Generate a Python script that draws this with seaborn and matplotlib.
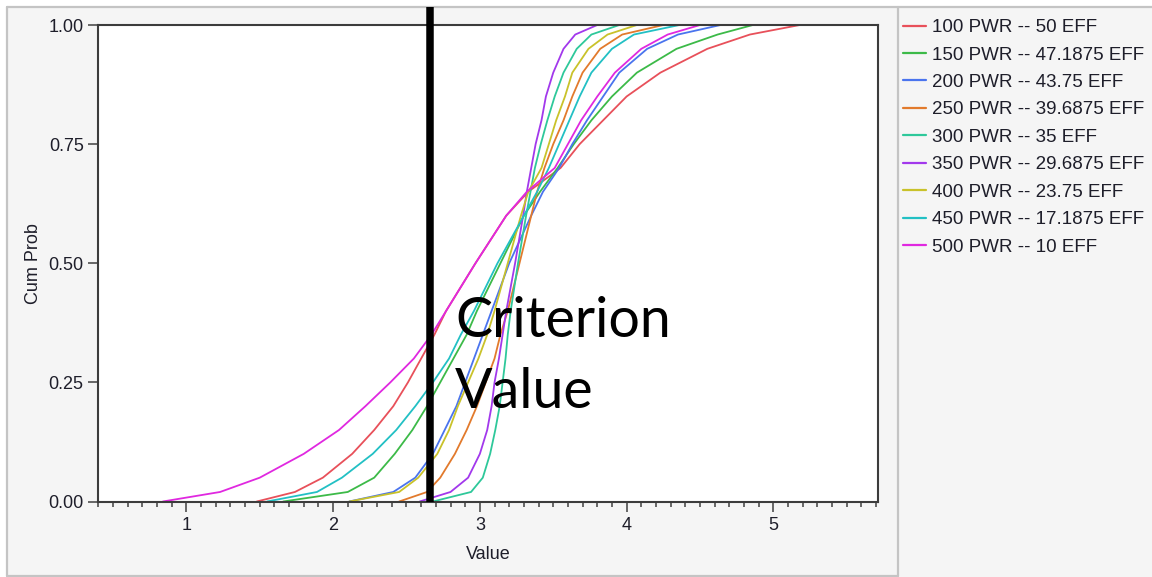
import numpy as np
import pandas as pd
import matplotlib
matplotlib.use("Agg")
import matplotlib.pyplot as plt
import seaborn as sns
from matplotlib.lines import Line2D
from matplotlib.ticker import MultipleLocator

# Cumulative probability levels shared by every series
CUM_PROB = [0.0, 0.02, 0.05, 0.10, 0.15, 0.20, 0.25, 0.30, 0.35, 0.40, 0.50,
            0.60, 0.65, 0.70, 0.75, 0.80, 0.85, 0.90, 0.95, 0.98, 1.0]

# Value reached by each design at the probability levels above
SERIES_LABELS = [
    "100 PWR -- 50 EFF",
    "150 PWR -- 47.1875 EFF",
    "200 PWR -- 43.75 EFF",
    "250 PWR -- 39.6875 EFF",
    "300 PWR -- 35 EFF",
    "350 PWR -- 29.6875 EFF",
    "400 PWR -- 23.75 EFF",
    "450 PWR -- 17.1875 EFF",
    "500 PWR -- 10 EFF",
]

pwr100 = [1.48, 1.74, 1.93, 2.13, 2.28, 2.41, 2.51, 2.60, 2.69, 2.77, 2.97,
          3.18, 3.33, 3.55, 3.68, 3.84, 4.00, 4.23, 4.55, 4.84, 5.18]
pwr150 = [1.66, 2.10, 2.28, 2.42, 2.54, 2.64, 2.73, 2.82, 2.91, 2.98, 3.14,
          3.30, 3.41, 3.53, 3.64, 3.76, 3.90, 4.07, 4.34, 4.62, 4.86]
pwr200 = [2.11, 2.41, 2.56, 2.68, 2.76, 2.84, 2.90, 2.96, 3.02, 3.08, 3.20,
          3.35, 3.43, 3.54, 3.63, 3.73, 3.84, 3.95, 4.14, 4.35, 4.64]
pwr250 = [2.45, 2.64, 2.73, 2.83, 2.91, 2.98, 3.04, 3.10, 3.14, 3.19, 3.27,
          3.35, 3.39, 3.44, 3.50, 3.57, 3.63, 3.70, 3.82, 3.97, 4.25]
pwr300 = [2.68, 2.94, 3.02, 3.07, 3.105, 3.135, 3.155, 3.175, 3.19, 3.21, 3.26,
          3.315, 3.345, 3.375, 3.415, 3.46, 3.51, 3.57, 3.66, 3.76, 3.95]
pwr350 = [2.59, 2.80, 2.92, 3.00, 3.05, 3.08, 3.10, 3.13, 3.155, 3.18, 3.24,
          3.295, 3.32, 3.35, 3.38, 3.42, 3.45, 3.50, 3.57, 3.65, 3.80]
pwr400 = [2.11, 2.45, 2.58, 2.71, 2.79, 2.85, 2.92, 2.99, 3.05, 3.10, 3.19,
          3.28, 3.33, 3.42, 3.47, 3.52, 3.58, 3.63, 3.74, 3.87, 4.07]
pwr450 = [1.55, 1.89, 2.06, 2.27, 2.43, 2.56, 2.68, 2.79, 2.87, 2.96, 3.12,
          3.30, 3.39, 3.47, 3.54, 3.61, 3.68, 3.76, 3.90, 4.05, 4.36]
pwr500 = [0.84, 1.23, 1.50, 1.80, 2.04, 2.22, 2.39, 2.55, 2.67, 2.77, 2.97,
          3.18, 3.32, 3.51, 3.60, 3.69, 3.80, 3.92, 4.10, 4.28, 4.50]

SERIES_VALUES = [pwr100, pwr150, pwr200, pwr250, pwr300,
                 pwr350, pwr400, pwr450, pwr500]

CRITERION = 2.66

colors = ["#e8505a", "#3cba48", "#4a74ee", "#e27a2c", "#2ec89a",
          "#a238ec", "#c9c22a", "#22c0c4", "#e028e0"]

rows = []
for label, vals in zip(SERIES_LABELS, SERIES_VALUES):
    for v, p in zip(vals, CUM_PROB):
        rows.append({"Series": label, "Value": v, "Cum Prob": p})
df = pd.DataFrame(rows)

sns.set_style("white")
plt.rcParams["font.family"] = ["Liberation Sans", "DejaVu Sans"]

fig = plt.figure(figsize=(11.52, 5.77), dpi=100)
fig.patch.set_facecolor("white")

W, H = 1152.0, 577.0
# light grey report panel with thin frame lines
panel = plt.Rectangle((7 / W, 0), 1 - 7 / W, 1 - 7 / H, transform=fig.transFigure,
                      facecolor="#f5f5f5", edgecolor="none", zorder=-10)
fig.add_artist(panel)
frame_kw = dict(transform=fig.transFigure, color="#c4c4c4", lw=1.6, zorder=-5)
fig.add_artist(Line2D([7 / W, 1], [1 - 7 / H, 1 - 7 / H], **frame_kw))
fig.add_artist(Line2D([7 / W, 7 / W], [1 / H, 1 - 7 / H], **frame_kw))
fig.add_artist(Line2D([898 / W, 898 / W], [1 / H, 1 - 7 / H], **frame_kw))
fig.add_artist(Line2D([7 / W, 898 / W], [1.5 / H, 1.5 / H], **frame_kw))

ax = fig.add_axes([98.3 / W, (H - 501.5) / H, (878.3 - 98.3) / W, (501.5 - 25) / H])
ax.set_facecolor("white")

sns.lineplot(data=df, x="Value", y="Cum Prob", hue="Series",
             hue_order=SERIES_LABELS, palette=colors, estimator=None,
             sort=False, linewidth=1.3, legend=False, ax=ax)
for ln in ax.lines:
    ln.set_clip_on(False)

ax.set_xlim(0.4, 5.715)
ax.set_ylim(0, 1)

# criterion marker running up through the top of the panel
ax.plot([CRITERION, CRITERION], [0, 1.038], color="black", lw=5.4,
        solid_capstyle="butt", clip_on=False, zorder=5)
ax.text(2.83, 0.345, "Criterion", fontsize=40, family=["Lato", "DejaVu Sans"],
        va="baseline", ha="left", color="black", zorder=6)
ax.text(2.83, 0.196, "Value", fontsize=40, family=["Lato", "DejaVu Sans"],
        va="baseline", ha="left", color="black", zorder=6)

ax.xaxis.set_major_locator(MultipleLocator(1))
ax.xaxis.set_minor_locator(MultipleLocator(0.1))
ax.set_yticks([0, 0.25, 0.5, 0.75, 1.0])
ax.set_yticklabels(["0.00", "0.25", "0.50", "0.75", "1.00"])
ax.tick_params(axis="both", which="major", direction="out", length=7.5, width=1.1,
               color="#404040", labelsize=13, labelcolor="#1e1e2a", pad=3,
               left=True, bottom=True)
ax.tick_params(axis="x", which="minor", direction="out", length=3.8, width=1.1,
               color="#404040", bottom=True)
ax.tick_params(axis="x", which="major", pad=4)

for sp in ax.spines.values():
    sp.set_color("#3c3c3c")
    sp.set_linewidth(1.5)
    sp.set_visible(True)

ax.set_xlabel("Value", fontsize=13, color="#1e1e2a", labelpad=8)
ax.set_ylabel("Cum Prob", fontsize=13, color="#1e1e2a", labelpad=5)

handles = [Line2D([], [], color=c, lw=1.6) for c in colors]
fig.legend(handles, SERIES_LABELS, loc="upper left",
           bbox_to_anchor=(903 / W, (H - 19) / H), frameon=False,
           fontsize=13.5, handlelength=1.25, handletextpad=0.3,
           labelspacing=0.55, borderpad=0, borderaxespad=0,
           labelcolor="#1e1e2a")

fig.savefig("out.png", dpi=100, facecolor=fig.get_facecolor())
